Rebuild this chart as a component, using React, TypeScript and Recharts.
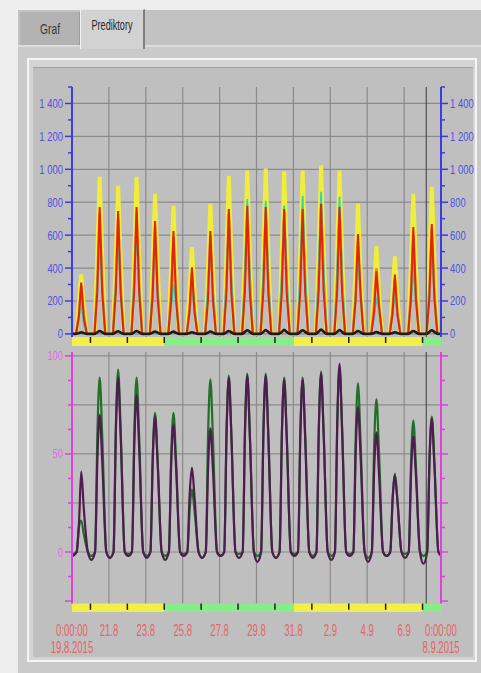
import React from 'react';
import { LineChart, Line, XAxis, YAxis, CartesianGrid, ReferenceArea, ReferenceLine } from 'recharts';

const FONT = "'Liberation Sans', Arial, sans-serif";

// days 19.8.2015 .. 7.9.2015
const dayLabels = ['19.8', '20.8', '21.8', '22.8', '23.8', '24.8', '25.8', '26.8', '27.8', '28.8', '29.8', '30.8', '31.8', '1.9', '2.9', '3.9', '4.9', '5.9', '6.9', '7.9'];

// top plot, per day [morning, noon, afternoon]
const yellowDaily = [[180, 361, 170], [480, 955, 470], [450, 900, 440], [480, 955, 470], [425, 851, 420], [390, 778, 380], [265, 527, 255], [395, 790, 390], [480, 961, 475], [495, 992, 490], [500, 1004, 495], [495, 986, 490], [495, 992, 490], [510, 1023, 505], [495, 992, 490], [395, 790, 385], [265, 533, 260], [235, 471, 230], [425, 851, 420], [445, 894, 440]];
const orangeDaily = [[120, 290, 115], [305, 730, 300], [295, 700, 290], [310, 740, 305], [275, 650, 270], [250, 590, 245], [155, 370, 150], [250, 600, 245], [305, 730, 300], [315, 750, 310], [310, 740, 305], [305, 730, 300], [305, 730, 300], [320, 760, 315], [310, 740, 305], [235, 560, 240], [170, 400, 165], [140, 330, 135], [250, 600, 245], [270, 640, 265]];
const cyanDaily = [[100, 190, 60], [280, 560, 260], [300, 600, 280], [320, 640, 300], [280, 560, 260], [150, 300, 200], [120, 250, 180], [280, 560, 260], [350, 700, 330], [380, 820, 370], [380, 808, 370], [360, 780, 350], [390, 839, 380], [400, 863, 390], [390, 833, 380], [230, 450, 260], [100, 220, 150], [110, 250, 120], [200, 390, 220], [250, 520, 240]];
const redDaily = [[100, 312, 95], [255, 771, 250], [245, 747, 240], [255, 771, 255], [225, 686, 225], [205, 625, 205], [135, 404, 130], [205, 625, 205], [250, 759, 245], [255, 778, 250], [255, 771, 250], [250, 759, 250], [250, 759, 250], [260, 790, 260], [255, 771, 250], [200, 606, 240], [125, 380, 170], [120, 361, 115], [215, 649, 210], [220, 667, 215]];
const blackDaily = [[5, 10, 5], [10, 18, 10], [10, 16, 8], [10, 18, 10], [8, 15, 8], [8, 14, 6], [6, 10, 6], [8, 15, 8], [10, 18, 10], [12, 22, 12], [12, 24, 12], [12, 25, 12], [12, 22, 12], [14, 26, 14], [12, 24, 12], [10, 18, 10], [6, 12, 6], [6, 10, 6], [10, 18, 10], [12, 22, 12]];

// bottom plot (%), per day [morning, noon, afternoon] and a night value
const greenDaily = [[13, 16, 9], [62, 89, 59], [65, 93, 61], [62, 89, 59], [50, 71, 47], [50, 71, 47], [22, 32, 21], [62, 88, 58], [63, 90, 59], [64, 91, 60], [64, 91, 60], [62, 89, 59], [62, 89, 59], [64, 92, 61], [66, 94, 62], [60, 86, 57], [55, 78, 51], [28, 40, 26], [47, 67, 44], [48, 69, 46]];
const purpleDaily = [[15, 41, 22], [49, 70, 46], [62, 89, 59], [56, 80, 53], [48, 69, 46], [46, 65, 43], [30, 43, 28], [44, 63, 42], [62, 89, 59], [63, 90, 59], [63, 90, 59], [62, 88, 58], [62, 88, 58], [64, 91, 60], [67, 96, 63], [52, 74, 49], [43, 61, 40], [27, 39, 26], [41, 59, 39], [48, 68, 45]];
const greenNight = [-1, -2, -3, -1, -2, -2, -1, -3, -2, -1, -2, -3, -1, -2, -2, -1, -3, -2, -1, -2];
const purpleNight = [-2, -4, -3, -2, -3, -4, -2, -3, -2, -3, -5, -3, -2, -3, -4, -2, -5, -2, -3, -6];

// sample times within a day (fraction of day)
const topTimes = [0, 0.22, 0.37, 0.5, 0.64, 0.8];
const bottomTimes = [0.05, 0.25, 0.38, 0.5, 0.64, 0.86];

// strip (day-type bands)
const stripBands = [
  { from: 0, to: 5, color: '#f3ef4a' },
  { from: 5, to: 12, color: '#88ec88' },
  { from: 12, to: 19, color: '#f3ef4a' },
  { from: 19, to: 20, color: '#88ec88' },
];
const stripTicks = [1, 3, 5, 7, 9, 11, 13, 15, 17, 19];
const cursorDay = 19.2;

const topTicks = [0, 100, 200, 300, 400, 500, 600, 700, 800, 900, 1000, 1100, 1200, 1300, 1400, 1500];
const topGrid = [0, 200, 400, 600, 800, 1000, 1200, 1400];
const bottomTicks = [-25, -12.5, 0, 12.5, 25, 37.5, 50, 62.5, 75, 87.5, 100];
const bottomGrid = [0, 25, 50, 75, 100];
const bottomLabels = [0, 50, 100];
const xGrid = [2, 4, 6, 8, 10, 12, 14, 16, 18];
const xTicks = [0, 2, 4, 6, 8, 10, 12, 14, 16, 18, 20];
const xTickLabels = [['0:00:00', '19.8.2015'], ['21.8'], ['23.8'], ['25.8'], ['27.8'], ['29.8'], ['31.8'], ['2.9'], ['4.9'], ['6.9'], ['0:00:00', '8.9.2015']];

const topData: any[] = [];
dayLabels.forEach((_, d) => {
  topTimes.forEach((f, k) => {
    const idx = k - 2;
    const pick = (arr: number[][]) => (idx >= 0 && idx <= 2 ? arr[d][idx] : 0);
    topData.push({
      t: d + f,
      yellow: pick(yellowDaily),
      orange: pick(orangeDaily),
      cyan: pick(cyanDaily),
      red: pick(redDaily),
      black: pick(blackDaily),
    });
  });
});
topData.push({ t: 20, yellow: 0, orange: 0, cyan: 0, red: 0, black: 0 });

const bottomData: any[] = [];
dayLabels.forEach((_, d) => {
  bottomTimes.forEach((f, k) => {
    const idx = k - 2;
    const g = k === 0 ? greenNight[d] : idx >= 0 && idx <= 2 ? greenDaily[d][idx] : 0;
    const p = k === 0 ? purpleNight[d] : idx >= 0 && idx <= 2 ? purpleDaily[d][idx] : 0;
    bottomData.push({ t: d + f, green: g, purple: p });
  });
});
bottomData.push({ t: 20, green: -1, purple: -2 });

const fmtThousands = (v: number) => (v >= 1000 ? `${Math.floor(v / 1000)} ${String(v % 1000).padStart(3, '0')}` : `${v}`);

// Arial / Liberation Sans advance widths (em)
const ARIAL: Record<string, number> = { '.': 0.278, ':': 0.278, ' ': 0.278, '-': 0.333, P: 0.667, G: 0.778, r: 0.333, e: 0.556, d: 0.556, i: 0.222, k: 0.5, t: 0.278, o: 0.556, y: 0.5, a: 0.556, f: 0.278 };
const arialWidth = (s: string, size: number) => s.split('').reduce((w, c) => w + (ARIAL[c] ?? 0.556), 0) * size;
// target width in the narrow source font
const narrowWidth = (s: string, digitW: number) =>
  s.split('').reduce((w, c) => w + (c === '.' || c === ':' ? digitW * 0.5 : c === ' ' ? digitW * 0.55 : digitW), 0);

// condensed text: scaled horizontally to a target width
const NarrowText = ({ x, y, s, size, width, anchor, fill }: { x: number; y: number; s: string; size: number; width: number; anchor: 'start' | 'middle' | 'end'; fill: string }) => {
  const sx = width / arialWidth(s, size);
  return (
    <text transform={`translate(${x},${y}) scale(${sx.toFixed(3)},1)`} textAnchor={anchor} fill={fill} fontSize={size} fontFamily={FONT}>
      {s}
    </text>
  );
};

const makeYTick = (side: 'left' | 'right', color: string, textColor: string, isLabel: (v: number) => boolean, isLong: (v: number) => boolean, fmt: (v: number) => string, showText: boolean) =>
  (props: any) => {
    const { x, y, payload } = props;
    const v = payload.value;
    const dir = side === 'left' ? -1 : 1;
    const len = isLong(v) ? 7 : 4;
    const label = showText && isLabel(v) ? fmt(v) : null;
    return (
      <g>
        <line x1={x} x2={x + dir * len} y1={y} y2={y} stroke={color} strokeWidth={1.5} />
        {label !== null && (
          <NarrowText x={x + dir * 9} y={y + 4.5} s={label} size={13} width={narrowWidth(label, 5.2)} anchor={side === 'left' ? 'end' : 'start'} fill={textColor} />
        )}
      </g>
    );
  };

const BLUE = '#3c3ce4';
const BLUE_TEXT = '#4f4fe6';
const MAG = '#e040e0';
const MAG_TEXT = '#e468e4';

const topLeftTick = makeYTick('left', BLUE, BLUE_TEXT, (v) => v % 200 === 0 && v <= 1400, (v) => v % 200 === 0 && v <= 1400, fmtThousands, true);
const topRightTick = makeYTick('right', BLUE, BLUE_TEXT, (v) => v % 200 === 0 && v <= 1400, (v) => v % 200 === 0 && v <= 1400, fmtThousands, true);
const botLeftTick = makeYTick('left', MAG, MAG_TEXT, (v) => bottomLabels.includes(v), (v) => bottomLabels.includes(v) || v === -25, (v) => `${v}`, true);
const botRightTick = makeYTick('right', MAG, MAG_TEXT, () => false, (v) => v % 25 === 0, (v) => `${v}`, false);

const XTick = (props: any) => {
  const { x, y, payload } = props;
  const i = xTicks.indexOf(payload.value);
  const lines = i >= 0 ? xTickLabels[i] : [];
  return (
    <g>
      {lines.map((s, k) => (
        <NarrowText key={k} x={x} y={y + 23.5 + k * 17} s={s} size={16} width={narrowWidth(s, 5.3)} anchor="middle" fill="#e66464" />
      ))}
    </g>
  );
};

const TOP_DOMAIN: [number, number] = [-73.5, 1500];
const BOT_DOMAIN: [number, number] = [-30.6, 102];

export default function App() {
  return (
    <div style={{ position: 'fixed', left: 0, top: 0, width: 481, height: 673, background: '#eeeeee', overflow: 'hidden' }}>
      {/* tab bar */}
      <div style={{ position: 'absolute', left: 18, top: 10, width: 463, height: 663, background: '#c2c2c2' }} />
      <div style={{ position: 'absolute', left: 18, top: 45, width: 463, height: 2, background: '#dcdcdc' }} />
      <div style={{ position: 'absolute', left: 18, top: 47, width: 463, height: 626, background: '#cacaca' }} />
      <div style={{ position: 'absolute', left: 20, top: 12, width: 59, height: 33, background: '#b3b3b3', borderRight: '1px solid #9c9c9c' }} />
      <div style={{ position: 'absolute', left: 80, top: 9, width: 62, height: 39, background: '#d2d2d2', borderLeft: '1px solid #f2f2f2', borderRight: '2px solid #7e7e7e', borderTop: '1px solid #e8e8e8' }} />
      <svg style={{ position: 'absolute', left: 0, top: 0 }} width={481} height={60}>
        <NarrowText x={50} y={34} s="Graf" size={14} width={20} anchor="middle" fill="#3a3a3a" />
        <NarrowText x={112} y={30} s="Prediktory" size={14} width={41} anchor="middle" fill="#2a2a2a" />
      </svg>
      {/* inner frame */}
      <div style={{ position: 'absolute', left: 27, top: 58, width: 446, height: 600, border: '2px solid #f4f4f4', background: '#d4d4d4' }} />
      <div style={{ position: 'absolute', left: 33, top: 67, width: 440, height: 589, background: '#bfbfbf', borderTop: '1px solid #9e9e9e' }} />

      {/* top chart */}
      <div style={{ position: 'absolute', left: 0, top: 80 }}>
        <LineChart width={481} height={280} data={topData} margin={{ top: 7, right: 0, bottom: 14, left: 0 }}>
          <CartesianGrid stroke="#8a8a8a" strokeWidth={1.2} horizontalValues={topGrid} verticalValues={xGrid} />
          <XAxis type="number" dataKey="t" domain={[0, 20]} hide allowDataOverflow />
          <YAxis type="number" domain={TOP_DOMAIN} ticks={topTicks} interval={0} allowDataOverflow width={72} axisLine={false} tickLine={false} tickSize={0} tickMargin={0} tick={topLeftTick} />
          <YAxis yAxisId="r" orientation="right" type="number" domain={TOP_DOMAIN} ticks={topTicks} interval={0} allowDataOverflow width={40} axisLine={false} tickLine={false} tickSize={0} tickMargin={0} tick={topRightTick} />
          {stripBands.map((b, i) => (
            <ReferenceArea key={i} x1={b.from} x2={b.to} y1={-19} y2={-73.5} fill={b.color} fillOpacity={1} stroke="none" />
          ))}
          {stripTicks.map((d) => (
            <ReferenceLine key={d} segment={[{ x: d, y: -19 }, { x: d, y: -55 }]} stroke="#1e1e1e" strokeWidth={1.5} />
          ))}
          <Line type="linear" dataKey="yellow" stroke="#f0ee3a" strokeWidth={4} dot={false} activeDot={false} isAnimationActive={false} />
          <Line type="linear" dataKey="orange" stroke="#ef8f22" strokeWidth={2.6} dot={false} activeDot={false} isAnimationActive={false} />
          <Line type="linear" dataKey="cyan" stroke="#2fd6b4" strokeWidth={1.8} dot={false} activeDot={false} isAnimationActive={false} />
          <Line type="linear" dataKey="red" stroke="#e2240e" strokeWidth={2} dot={false} activeDot={false} isAnimationActive={false} />
          <Line type="monotone" dataKey="black" stroke="#1c1c1c" strokeWidth={2.6} dot={false} activeDot={false} isAnimationActive={false} />
          <ReferenceLine segment={[{ x: cursorDay, y: -19 }, { x: cursorDay, y: 1500 }]} stroke="#3a3a3a" strokeWidth={1} />
          <ReferenceLine segment={[{ x: 0, y: -19 }, { x: 0, y: 1500 }]} stroke={BLUE} strokeWidth={2} />
          <ReferenceLine segment={[{ x: 20, y: -19 }, { x: 20, y: 1500 }]} stroke={BLUE} strokeWidth={2} />
        </LineChart>
      </div>

      {/* bottom chart */}
      <div style={{ position: 'absolute', left: 0, top: 345 }}>
        <LineChart width={481} height={312} data={bottomData} margin={{ top: 7, right: 0, bottom: 0, left: 0 }}>
          <CartesianGrid stroke="#8e8a8a" strokeWidth={1.2} horizontalValues={bottomGrid} verticalValues={xGrid} />
          <XAxis type="number" dataKey="t" domain={[0, 20]} ticks={xTicks} interval={0} allowDataOverflow height={45} axisLine={false} tickLine={false} tickSize={0} tickMargin={0} tick={XTick} />
          <YAxis type="number" domain={BOT_DOMAIN} ticks={bottomTicks} interval={0} allowDataOverflow width={72} axisLine={false} tickLine={false} tickSize={0} tickMargin={0} tick={botLeftTick} />
          <YAxis yAxisId="r" orientation="right" type="number" domain={BOT_DOMAIN} ticks={bottomTicks} interval={0} allowDataOverflow width={40} axisLine={false} tickLine={false} tickSize={0} tickMargin={0} tick={botRightTick} />
          {stripBands.map((b, i) => (
            <ReferenceArea key={i} x1={b.from} x2={b.to} y1={-26.3} y2={-30.6} fill={b.color} fillOpacity={1} stroke="none" />
          ))}
          {stripTicks.map((d) => (
            <ReferenceLine key={d} segment={[{ x: d, y: -26.3 }, { x: d, y: -29.5 }]} stroke="#1e1e1e" strokeWidth={1.5} />
          ))}
          <Line type="monotone" dataKey="green" stroke="#236f2a" strokeWidth={2.2} dot={false} activeDot={false} isAnimationActive={false} />
          <Line type="monotone" dataKey="purple" stroke="#4e1c4e" strokeWidth={2.2} dot={false} activeDot={false} isAnimationActive={false} />
          <ReferenceLine segment={[{ x: cursorDay, y: -26.3 }, { x: cursorDay, y: 102 }]} stroke="#3a3a3a" strokeWidth={1} />
          <ReferenceLine segment={[{ x: 0, y: -26.3 }, { x: 0, y: 102 }]} stroke={MAG} strokeWidth={2} />
          <ReferenceLine segment={[{ x: 20, y: -26.3 }, { x: 20, y: 102 }]} stroke={MAG} strokeWidth={2} />
        </LineChart>
      </div>
    </div>
  );
}
